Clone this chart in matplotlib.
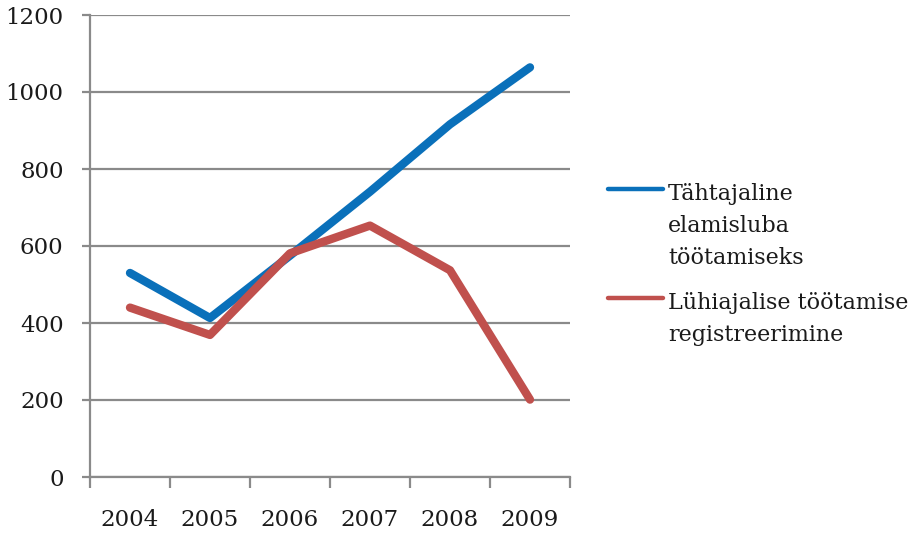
import matplotlib.pyplot as plt
from matplotlib.lines import Line2D
import numpy as np

years = ["2004", "2005", "2006", "2007", "2008", "2009"]
elamisluba = [530, 413, 575, 741, 916, 1064]
luhiajaline = [440, 369, 581, 653, 537, 201]

series_labels = ["Tähtajaline\nelamisluba\ntöötamiseks",
                 "Lühiajalise töötamise\nregistreerimine"]
colors = ["#0A70BA", "#C0504D"]

plt.rcParams["font.family"] = ["DejaVu Serif"]

fig = plt.figure(figsize=(9.14, 5.33), dpi=100)
ax = fig.add_axes([90 / 914, 1 - 477 / 533, 480 / 914, 462 / 533])

x = np.arange(len(years))
ax.plot(x, elamisluba, color=colors[0], lw=6, solid_capstyle="round",
        solid_joinstyle="round", zorder=3)
ax.plot(x, luhiajaline, color=colors[1], lw=6, solid_capstyle="round",
        solid_joinstyle="round", zorder=4)

gray = "#8a8a8a"
txt = "#1a1a1a"
ax.set_xlim(-0.5, len(years) - 0.5)
ax.set_ylim(0, 1200)
ax.set_yticks(np.arange(0, 1201, 200))
ax.yaxis.grid(True, color=gray, lw=1.6)
ax.set_axisbelow(True)

# category labels on minor ticks, tick marks between categories
ax.set_xticks(np.arange(-0.5, len(years)), [""] * (len(years) + 1))
ax.set_xticks(x, years, minor=True)
ax.tick_params(axis="x", which="major", length=8, width=1.6, color=gray, direction="out")
ax.tick_params(axis="x", which="minor", length=0, pad=23, labelsize=16.5, labelcolor=txt)
ax.tick_params(axis="y", length=6, width=1.6, color=gray, pad=13, labelsize=16.5,
               labelcolor=txt)

for s in ["top", "right"]:
    ax.spines[s].set_visible(False)
for s in ["left", "bottom"]:
    ax.spines[s].set_color(gray)
    ax.spines[s].set_linewidth(1.6)

# legend
leg_y = [189, 298]
for lab, col, ly in zip(series_labels, colors, leg_y):
    fig.add_artist(Line2D([608 / 914, 663 / 914], [1 - ly / 533, 1 - ly / 533], color=col,
                          lw=3.2, solid_capstyle="round", transform=fig.transFigure))
    fig.text(668 / 914, 1 - (ly - 6) / 533, lab, fontsize=16, va="top", ha="left",
             color=txt, linespacing=1.6)

fig.savefig("out.png", dpi=100)
